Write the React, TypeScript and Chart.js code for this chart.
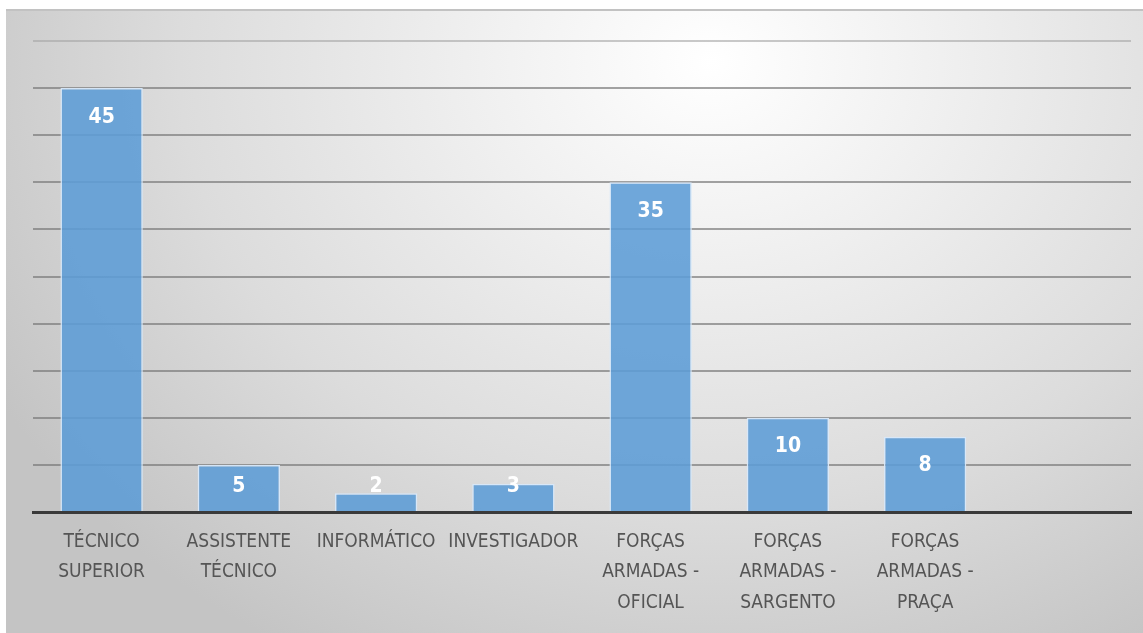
import React, { useEffect, useRef } from "react";
import { Chart, registerables } from "chart.js";

Chart.register(...registerables);

const categories: (string | string[])[] = [
  ["TÉCNICO", "SUPERIOR"],
  ["ASSISTENTE", "TÉCNICO"],
  "INFORMÁTICO",
  "INVESTIGADOR",
  ["FORÇAS", "ARMADAS -", "OFICIAL"],
  ["FORÇAS", "ARMADAS -", "SARGENTO"],
  ["FORÇAS", "ARMADAS -", "PRAÇA"],
  "",
];
const values: (number | null)[] = [45, 5, 2, 3, 35, 10, 8, null];
const yMin = 0;
const yMax = 50;
const yStep = 5;

const FONT = "'Liberation Sans Narrow', 'DejaVu Sans Condensed', 'Roboto Condensed', sans-serif";

const valueLabels = {
  id: "valueLabels",
  afterDatasetsDraw(chart: any) {
    const ctx = chart.ctx;
    const meta = chart.getDatasetMeta(0);
    const base = chart.scales.y.getPixelForValue(0);
    ctx.save();
    ctx.fillStyle = "#ffffff";
    ctx.font = `bold 21px ${FONT}`;
    ctx.textAlign = "center";
    ctx.textBaseline = "middle";
    meta.data.forEach((el: any, i: number) => {
      const v = values[i];
      if (v === null || v === undefined) return;
      const y = Math.min(el.y + 29, base - 26);
      ctx.fillText(String(v), el.x, y);
    });
    ctx.restore();
  },
};

export default function App() {
  const ref = useRef<HTMLCanvasElement>(null);
  useEffect(() => {
    if (!ref.current) return;
    const chart = new Chart(ref.current, {
      type: "bar",
      data: {
        labels: categories,
        datasets: [
          {
            data: values,
            backgroundColor: "rgba(92,156,214,0.88)",
            borderColor: "rgba(215,232,250,0.95)",
            borderWidth: 1.5,
            barPercentage: 0.6,
            categoryPercentage: 1,
          },
        ],
      },
      options: {
        responsive: false,
        animation: false,
        layout: { padding: { left: 27, right: 12, top: 30, bottom: 0 } },
        plugins: {
          legend: { display: false },
          tooltip: { enabled: false },
        },
        scales: {
          x: {
            grid: { display: false, drawTicks: false },
            border: { display: true, color: "#3a3a3a", width: 3 },
            ticks: {
              color: "#555555",
              font: { family: FONT, size: 19, lineHeight: 1.63 },
              padding: 14,
              maxRotation: 0,
              minRotation: 0,
              autoSkip: false,
            },
          },
          y: {
            min: yMin,
            max: yMax,
            ticks: { display: false, stepSize: yStep },
            border: { display: false },
            grid: {
              drawTicks: false,
              lineWidth: 2,
              color: (c: any) =>
                c.tick && c.tick.value === yMax ? "rgba(165,165,165,0.6)" : "rgba(120,120,120,0.68)",
            },
          },
        },
      },
      plugins: [valueLabels],
    });
    return () => chart.destroy();
  }, []);

  return (
    <div
      style={{
        position: "absolute",
        left: 6,
        top: 9,
        width: 1137,
        height: 624,
        borderTop: "2px solid #c2c2c2",
        background:
          "radial-gradient(ellipse 72% 110% at 62% 8%, #ffffff 0%, #efefef 30%, #dcdcdc 65%, #c4c4c4 100%)",
      }}
    >
      <canvas ref={ref} width={1137} height={622} style={{ display: "block" }} />
    </div>
  );
}
